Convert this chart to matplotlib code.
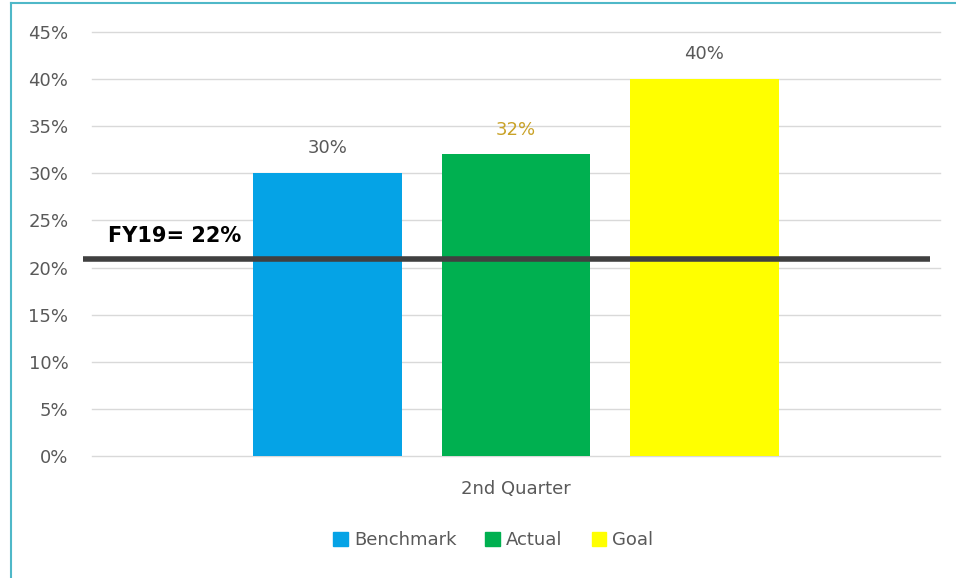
import matplotlib.pyplot as plt
from matplotlib.lines import Line2D

# data
series = ["Benchmark", "Actual", "Goal"]
values = [0.30, 0.32, 0.40]
colors = ["#05A3E6", "#00B050", "#FFFF00"]
label_colors = ["#595959", "#C9A227", "#595959"]
category = "2nd Quarter"
fy19_value = 0.209
fy19_text = "FY19= 22%"
yticks = [0, 0.05, 0.10, 0.15, 0.20, 0.25, 0.30, 0.35, 0.40, 0.45]

fig = plt.figure(figsize=(9.56, 5.78), dpi=100)
ax = fig.add_axes([0.0962, 0.2111, 0.8871, 0.7335])

positions = [-1, 0, 1]
for x, v, c, lc in zip(positions, values, colors, label_colors):
    ax.bar(x, v, width=0.79, color=c, zorder=2)
    ax.text(x, v + 0.0265, f"{v:.0%}", ha="center", va="center",
            fontsize=13, color=lc)

# FY19 reference line
ax.plot([-2.30, 2.196], [fy19_value, fy19_value], color="#404040",
        linewidth=4, solid_capstyle="butt", clip_on=False, zorder=3)
ax.text(-1.81, fy19_value + 0.024, fy19_text, ha="center", va="center",
        fontsize=15, fontweight="bold", color="black")

ax.set_xlim(-2.25, 2.25)
ax.set_ylim(0, 0.45)
ax.set_yticks(yticks)
ax.set_yticklabels([f"{t:.0%}" for t in yticks])
ax.set_xticks([0])
ax.set_xticklabels([category])
ax.tick_params(axis="y", length=0, pad=17, labelsize=13, labelcolor="#595959")
ax.tick_params(axis="x", length=0, pad=17, labelsize=13, labelcolor="#595959")
ax.grid(axis="y", color="#D9D9D9", linewidth=1, zorder=0)
for gl in ax.get_ygridlines():
    gl.set_clip_on(False)
ax.set_axisbelow(True)
for s in ax.spines.values():
    s.set_visible(False)

# legend
handles = [plt.Rectangle((0, 0), 1, 1, color=c) for c in colors]
leg = fig.legend(handles, series, loc="center", bbox_to_anchor=(0.516, 0.065),
                 ncol=3, frameon=False, fontsize=13, handlelength=0.8,
                 handleheight=0.8, handletextpad=0.35, columnspacing=1.6)
for t in leg.get_texts():
    t.set_color("#595959")

# chart border (left and top edges visible)
fig.add_artist(Line2D([0.0115, 0.0115], [0, 0.995], color="#4FB8C8", linewidth=1.5,
                      transform=fig.transFigure))
fig.add_artist(Line2D([0.0115, 1], [0.995, 0.995], color="#4FB8C8", linewidth=1.5,
                      transform=fig.transFigure))

fig.savefig("out.png", dpi=100)
